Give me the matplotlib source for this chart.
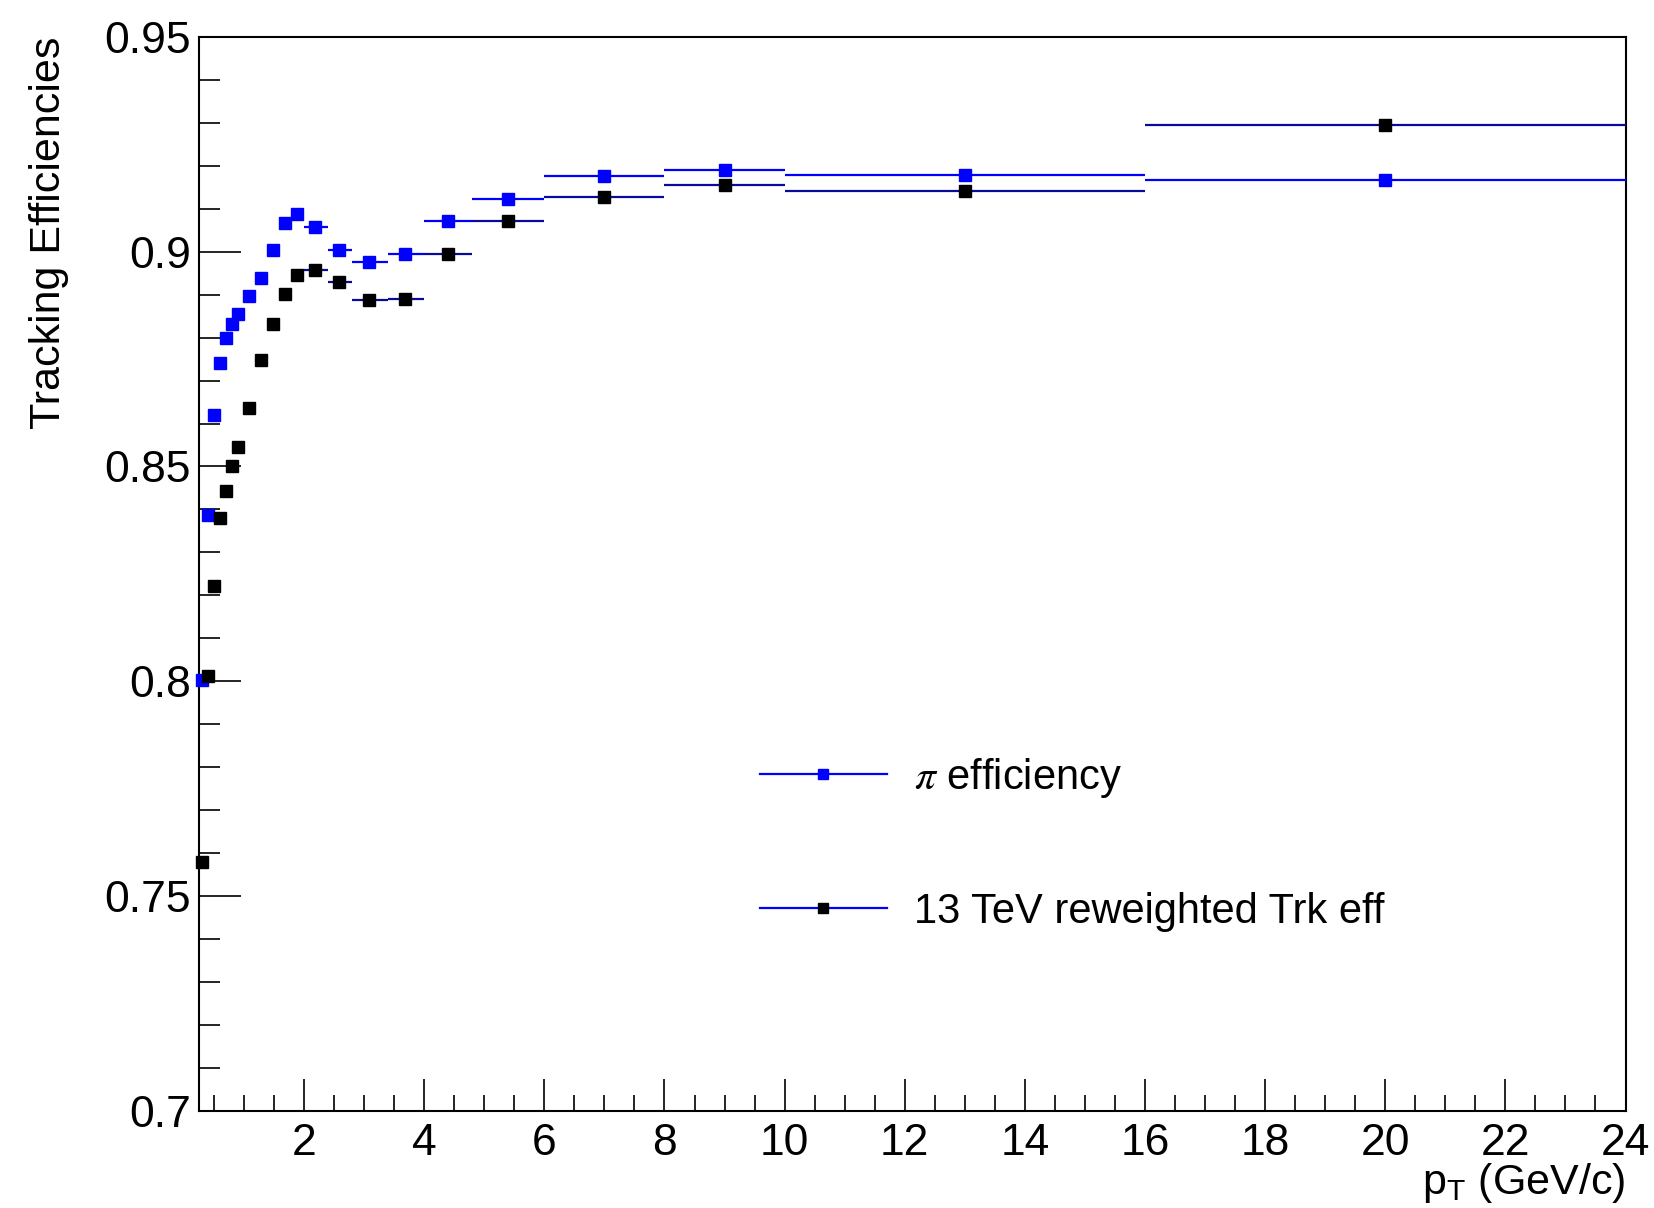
import numpy as np
import matplotlib.pyplot as plt
from matplotlib.lines import Line2D
from matplotlib.ticker import MultipleLocator, FormatStrFormatter
from matplotlib.font_manager import FontProperties

plt.rcParams['font.family'] = ['Liberation Sans', 'DejaVu Sans']
plt.rcParams['mathtext.fontset'] = 'custom'
plt.rcParams['mathtext.rm'] = 'Liberation Sans'
plt.rcParams['mathtext.it'] = 'Liberation Sans:italic'

# mean pT of each bin and the bin edges (GeV/c)
pt = [0.3, 0.4, 0.5, 0.6, 0.7, 0.8, 0.9, 1.08, 1.28, 1.48, 1.68, 1.88,
      2.18, 2.58, 3.08, 3.68, 4.4, 5.4, 7.0, 9.0, 13.0, 20.0]
pt_lo = [0.25, 0.35, 0.45, 0.55, 0.65, 0.75, 0.85, 1.0, 1.2, 1.4, 1.6, 1.8,
         2.0, 2.4, 2.8, 3.4, 4.0, 4.8, 6.0, 8.0, 10.0, 16.0]
pt_hi = [0.35, 0.45, 0.55, 0.65, 0.75, 0.85, 0.95, 1.2, 1.4, 1.6, 1.8, 2.0,
         2.4, 2.8, 3.4, 4.0, 4.8, 6.0, 8.0, 10.0, 16.0, 24.0]

# tracking efficiencies
eff_pi = [0.8002, 0.8388, 0.8619, 0.8740, 0.8799, 0.8832, 0.8855, 0.8897,
          0.8939, 0.9003, 0.9068, 0.9088, 0.9058, 0.9003, 0.8975, 0.8995,
          0.9071, 0.9123, 0.9176, 0.9191, 0.9179, 0.9168]
eff_13tev = [0.7578, 0.8011, 0.8221, 0.8379, 0.8444, 0.8500, 0.8546, 0.8637,
             0.8748, 0.8832, 0.8901, 0.8947, 0.8957, 0.8929, 0.8887, 0.8891,
             0.8995, 0.9071, 0.9128, 0.9155, 0.9141, 0.9294]

pt = np.array(pt)
xerr = [pt - np.array(pt_lo), np.array(pt_hi) - pt]

fig = plt.figure(figsize=(16.54, 12.08), dpi=100)
ax = fig.add_axes([199 / 1654, 1 - 1110.7 / 1208, 1426.5 / 1654, 1073.7 / 1208])

c_pi = ax.errorbar(pt, eff_pi, xerr=xerr, fmt='s', ms=8, color='#0000ff',
                   mfc='#0000ff', mec='#0000ff', elinewidth=1.6, capsize=0, zorder=3)
c_13 = ax.errorbar(pt, eff_13tev, xerr=xerr, fmt='s', ms=8, color='black',
                   ecolor='#0a0a9a', mfc='black', mec='black', elinewidth=1.6,
                   capsize=0, zorder=4)
for c in (c_pi, c_13):
    for art in c.get_children():
        art.set_clip_on(False)

ax.set_xlim(0.25, 24)
ax.set_ylim(0.7, 0.95)

ax.xaxis.set_major_locator(MultipleLocator(2))
ax.xaxis.set_minor_locator(MultipleLocator(0.5))
ax.yaxis.set_major_locator(MultipleLocator(0.05))
ax.yaxis.set_minor_locator(MultipleLocator(0.01))
ax.yaxis.set_major_formatter(FormatStrFormatter('%g'))

ax.tick_params(axis='both', which='both', direction='in', top=False, right=False,
               width=1.2, labelsize=32)
ax.tick_params(axis='x', which='major', length=23, pad=9)
ax.tick_params(axis='x', which='minor', length=11.5)
ax.tick_params(axis='y', which='major', length=30, pad=6)
ax.tick_params(axis='y', which='minor', length=15)
for sp in ax.spines.values():
    sp.set_linewidth(1.5)

fig.text(49 / 1654, 1 - 37 / 1208, 'Tracking Efficiencies', rotation=90,
         ha='center', va='top', fontsize=31)
fig.text(1625.5 / 1654, 1 - 1194 / 1208, r'$\mathrm{p}_{\mathrm{T}}$ (GeV/c)',
         ha='right', va='baseline', fontsize=31)

handles = [
    Line2D([], [], color='#0000ff', lw=1.6, marker='s', ms=7.5, mfc='#0000ff', mec='#0000ff'),
    Line2D([], [], color='#0000ff', lw=1.6, marker='s', ms=7.5, mfc='black', mec='black'),
]
labels = [r'$\pi$ efficiency', '13 TeV reweighted Trk eff']
leg_font = FontProperties(family='Liberation Sans', size=30, math_fontfamily='stix')
ax.legend(handles, labels, loc='upper left', bbox_to_anchor=(759.5 / 1654, 1 - 756 / 1208),
          bbox_transform=fig.transFigure, frameon=False, prop=leg_font,
          handlelength=3.05, handletextpad=0.66, labelspacing=2.2,
          borderpad=0, borderaxespad=0)

fig.savefig('out.png', dpi=100)
